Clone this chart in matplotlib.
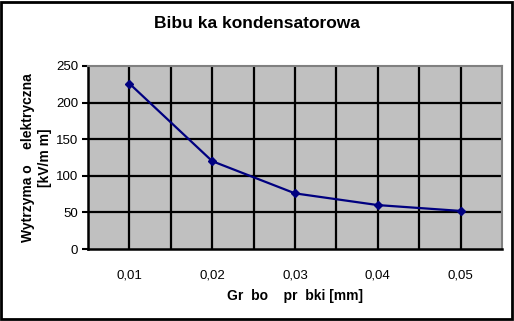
"""Breakdown strength of capacitor paper vs. thickness."""

import matplotlib

matplotlib.use("Agg")
import matplotlib.pyplot as plt
from matplotlib.patches import Rectangle

thickness_labels = ["0,01", "0,02", "0,03", "0,04", "0,05"]
strength_kv_mm = [226, 120, 76, 60, 52]
y_ticks = [0, 50, 100, 150, 200, 250]

plt.rcParams["font.family"] = ["Liberation Sans", "DejaVu Sans"]

fig = plt.figure(figsize=(5.14, 3.21), dpi=100)
W, H = 514, 321
ax = fig.add_axes([88 / W, 1 - 249 / H, (502 - 88) / W, (249 - 66) / H])
ax.set_facecolor("#c0c0c0")

positions = list(range(len(thickness_labels)))
ax.plot(positions, strength_kv_mm, color="#000080", linewidth=1.6,
        marker="D", markersize=4.5, zorder=3)

ax.set_xlim(-0.5, len(positions) - 0.5)
ax.set_ylim(0, 250)
ax.set_yticks(y_ticks)
ax.set_yticklabels([str(v) for v in y_ticks], fontsize=9.5)
ax.set_xticks(positions)
ax.set_xticklabels(thickness_labels, fontsize=9.5)
ax.tick_params(axis="x", length=0, pad=15)
ax.tick_params(axis="y", length=4, width=1.5, direction="out", pad=3)

for v in y_ticks[1:-1]:
    ax.axhline(v, color="black", linewidth=1.6, zorder=1)
for i in range(len(positions) * 2 - 1):
    ax.axvline(i * 0.5, color="black", linewidth=1.6, zorder=1)

for side in ("top", "right"):
    ax.spines[side].set_color("#808080")
    ax.spines[side].set_linewidth(1.5)
for side in ("left", "bottom"):
    ax.spines[side].set_color("black")
    ax.spines[side].set_linewidth(1.8)

fig.text(0.5, 1 - 23 / H, "Bibu ka kondensatorowa", fontsize=12.5,
         fontweight="bold", ha="center", va="center")
ax.set_xlabel("Gr  bo    pr  bki [mm]", fontsize=10, fontweight="bold",
              labelpad=5)
ax.set_ylabel("Wytrzyma o    elektryczna\n[kV/m m]", fontsize=10,
              fontweight="bold", labelpad=3, linespacing=1.3)

fig.patches.append(Rectangle((1 / W, 2 / H), (W - 3) / W, (H - 4) / H,
                             transform=fig.transFigure, fill=False,
                             edgecolor="black", linewidth=2))

fig.savefig("out.png", dpi=100)
